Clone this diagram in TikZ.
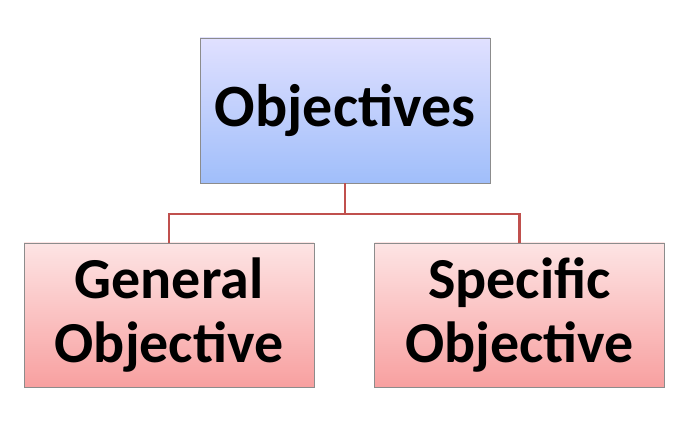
\documentclass[tikz,border=0pt]{standalone}
\usepackage{fontspec}
\setmainfont{Carlito}
\begin{document}
\begin{tikzpicture}[x=1pt,y=1pt,
 boxb/.style={draw=black!45,line width=0.6pt,top color=blue!12,bottom color={rgb,255:red,160;green,190;blue,250},minimum width=290pt,minimum height=145pt,inner sep=0pt,font=\fontsize{60}{64}\selectfont\bfseries,align=center},
 boxp/.style={draw=black!45,line width=0.6pt,top color={rgb,255:red,253;green,228;blue,228},bottom color={rgb,255:red,248;green,160;blue,160},minimum width=290pt,minimum height=144pt,inner sep=0pt,font=\fontsize{58}{64}\selectfont\bfseries,align=center},
 conn/.style={draw={rgb,255:red,192;green,80;blue,77},line width=2.2pt}]
\useasboundingbox (0,0) rectangle (690,431);
\node[boxb] (top) at (345,320.5) {Objectives};
\node[boxp] (gen) at (169,116) {General\\Objective};
\node[boxp] (spe) at (519.5,116) {Specific\\Objective};
\coordinate (mid) at (345,217);
\draw[conn] (top.south) -- (mid);
\draw[conn] (gen.north) |- (mid) -| (spe.north);
\end{tikzpicture}
\end{document}
